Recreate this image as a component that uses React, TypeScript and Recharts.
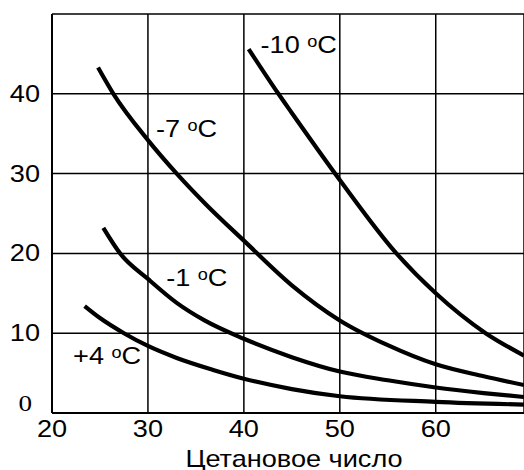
import React from 'react';
import { LineChart, Line, XAxis, YAxis, CartesianGrid, ReferenceDot, Label } from 'recharts';

const xTicks = [20, 30, 40, 50, 60];
const yTicks = [0, 10, 20, 30, 40, 50];
const xTitle = 'Цетановое число';

const curveMinus10 = [
  { x: 40.5, y: 45.6 }, { x: 43.6, y: 40 }, { x: 45, y: 37.6 }, { x: 50, y: 29.2 },
  { x: 55.9, y: 20 }, { x: 60, y: 15 }, { x: 65.2, y: 10 }, { x: 69.2, y: 7.2 },
];
const curveMinus7 = [
  { x: 24.8, y: 43.3 }, { x: 26.4, y: 40 }, { x: 30, y: 34.2 }, { x: 33, y: 30 },
  { x: 36, y: 26.2 }, { x: 40, y: 21.6 }, { x: 45, y: 16.0 }, { x: 50, y: 11.6 },
  { x: 55, y: 8.5 }, { x: 60, y: 6.1 }, { x: 65, y: 4.6 }, { x: 69.2, y: 3.5 },
];
const curveMinus1 = [
  { x: 25.35, y: 23.2 }, { x: 27.1, y: 20 }, { x: 30, y: 16.8 }, { x: 33, y: 13.8 },
  { x: 35.9, y: 11.6 }, { x: 40, y: 9.3 }, { x: 45, y: 7.0 }, { x: 50, y: 5.2 },
  { x: 55, y: 4.1 }, { x: 60, y: 3.2 }, { x: 65, y: 2.5 }, { x: 69.2, y: 2.0 },
];
const curvePlus4 = [
  { x: 23.4, y: 13.4 }, { x: 25, y: 11.9 }, { x: 27.5, y: 10 }, { x: 30, y: 8.4 },
  { x: 33, y: 6.9 }, { x: 36.8, y: 5.4 }, { x: 40, y: 4.3 }, { x: 45, y: 3.0 },
  { x: 50, y: 2.1 }, { x: 60, y: 1.4 }, { x: 69.2, y: 1.05 },
];

const curveLabels = [
  { text: '-10', x: 41.74, y: 45.06 },
  { text: '-7', x: 30.83, y: 34.6 },
  { text: '-1', x: 31.9, y: 15.9 },
  { text: '+4', x: 22.2, y: 6.2 },
];

const FONT = '"Liberation Sans", Arial, sans-serif';
const SX = 1.13;

const XTick = (props: any) => {
  const { x, y, payload } = props;
  return (
    <g transform={`translate(${x},${y + 24}) scale(${SX},1)`}>
      <text x={0} y={0} textAnchor="middle" fontSize={24} fontFamily={FONT} fill="#000">
        {payload.value}
      </text>
    </g>
  );
};

const YTick = (props: any) => {
  const { x, y, payload } = props;
  if (payload.value === 50) return <g />;
  if (payload.value === 0) {
    return (
      <g transform={`translate(${x - 20},${y - 2}) scale(${SX},1)`}>
        <text x={0} y={0} textAnchor="end" fontSize={24} fontFamily='"Liberation Serif", "Times New Roman", serif' fill="#000">
          {payload.value}
        </text>
      </g>
    );
  }
  return (
    <g transform={`translate(${x - 12},${y + 8}) scale(${SX},1)`}>
      <text x={0} y={0} textAnchor="end" fontSize={24} fontFamily={FONT} fill="#000">
        {payload.value}
      </text>
    </g>
  );
};

const TempLabel = (props: any) => {
  const { viewBox, text } = props;
  const x = viewBox.x + (viewBox.width || 0) / 2;
  const y = viewBox.y + (viewBox.height || 0) / 2;
  return (
    <g transform={`translate(${x},${y}) scale(${SX},1)`}>
      <text x={0} y={0} fontSize={24} fontFamily={FONT} fill="#000">
        {`${text} `}
        <tspan fontSize={16} dy={-6}>o</tspan>
        <tspan dy={6}>C</tspan>
      </text>
    </g>
  );
};

const TitleLabel = (props: any) => {
  const { viewBox } = props;
  const cx = viewBox.x + viewBox.width / 2 + 6;
  const y = viewBox.y + 53.5;
  return (
    <g transform={`translate(${cx},${y}) scale(${SX},1)`}>
      <text x={0} y={0} textAnchor="middle" fontSize={24} fontFamily={FONT} fill="#000">
        {xTitle}
      </text>
    </g>
  );
};

const series = [curveMinus10, curveMinus7, curveMinus1, curvePlus4];

export default function App() {
  return (
    <div style={{ position: 'absolute', left: 0, top: 0, background: '#fff' }}>
      <LineChart width={524} height={470} margin={{ top: 14, right: 0, left: 0, bottom: 0 }}>
        <CartesianGrid stroke="#000" strokeWidth={1.5} fill="none" />
        <XAxis
          type="number"
          dataKey="x"
          domain={[20, 69.2]}
          ticks={xTicks}
          allowDataOverflow
          height={57}
          tickSize={0}
          tickMargin={0}
          tickLine={false}
          axisLine={{ stroke: '#000', strokeWidth: 2 }}
          tick={<XTick />}
        >
          <Label content={<TitleLabel />} />
        </XAxis>
        <YAxis
          type="number"
          dataKey="y"
          domain={[0, 50]}
          ticks={yTicks}
          allowDataOverflow
          width={52}
          tickSize={0}
          tickMargin={0}
          tickLine={false}
          axisLine={{ stroke: '#000', strokeWidth: 2 }}
          tick={<YTick />}
        />
        {series.map((d, i) => (
          <Line
            key={i}
            data={d}
            dataKey="y"
            type="monotone"
            stroke="#000"
            strokeWidth={4.2}
            dot={false}
            activeDot={false}
            isAnimationActive={false}
          />
        ))}
        {curveLabels.map((l) => (
          <ReferenceDot
            key={l.text}
            x={l.x}
            y={l.y}
            r={0}
            fill="none"
            stroke="none"
            label={<TempLabel text={l.text} />}
          />
        ))}
      </LineChart>
    </div>
  );
}
